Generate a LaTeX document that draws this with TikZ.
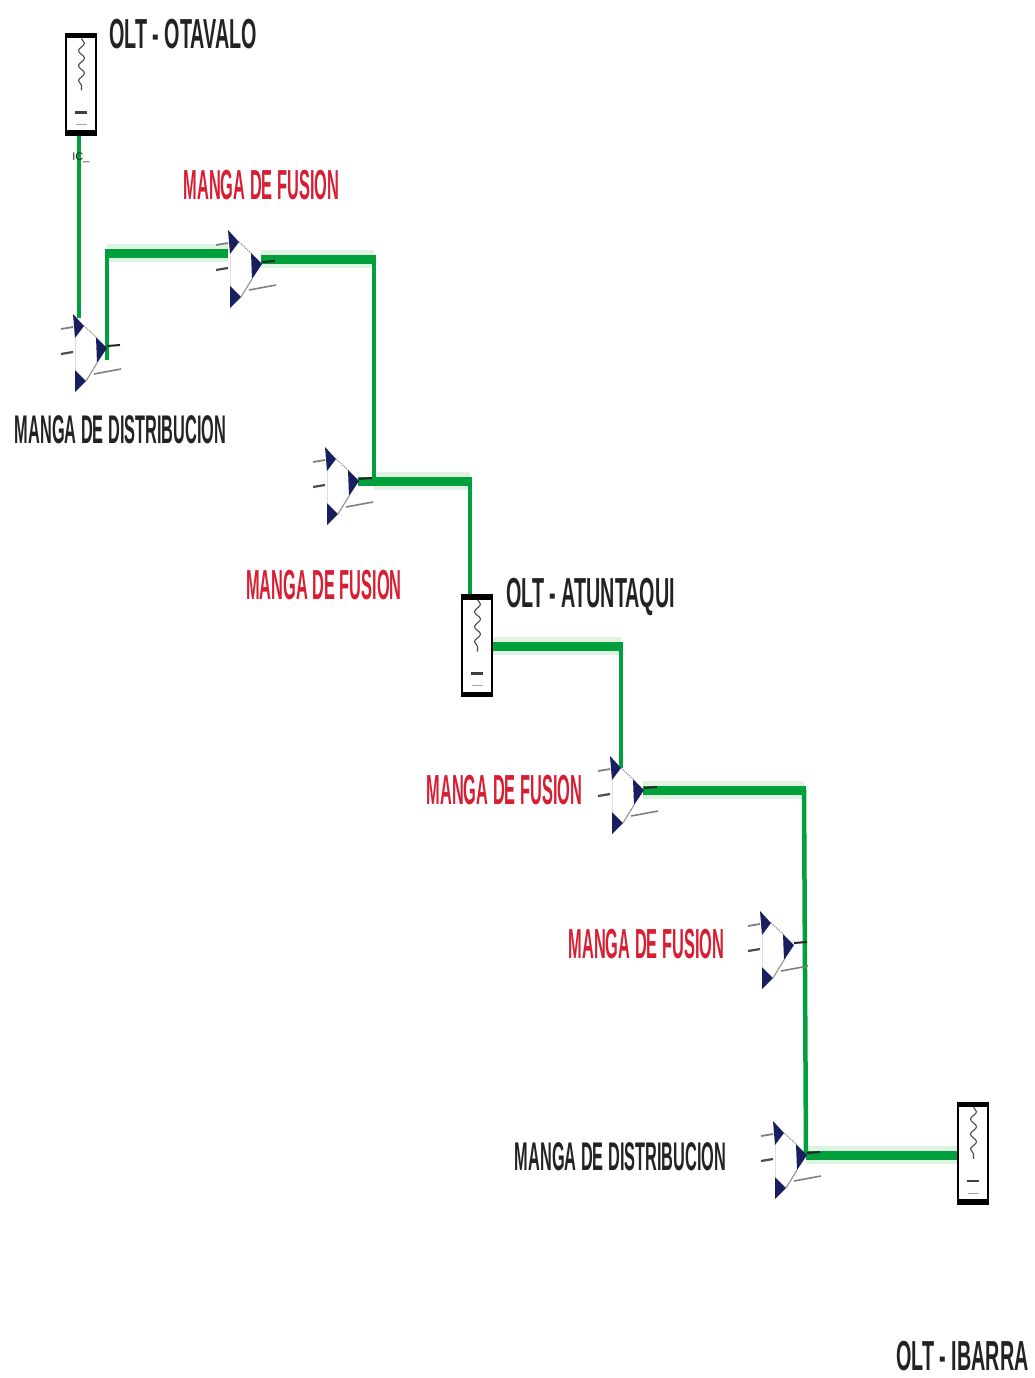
\documentclass[tikz,border=0pt]{standalone}
\usepackage{fontspec}
\setmainfont{Liberation Sans}
\usetikzlibrary{decorations.pathmorphing}
\definecolor{fibergreen}{RGB}{0,160,60}
\definecolor{halogreen}{RGB}{222,243,226}
\definecolor{mangablue}{RGB}{25,30,95}
\definecolor{mangared}{RGB}{215,30,50}
\definecolor{textblack}{RGB}{35,35,35}
\tikzset{
  lbl/.style    = {inner sep=0pt, transform shape, xscale=0.47, text=textblack,
                   font=\fontsize{42}{42}\selectfont\bfseries},
  redlbl/.style = {lbl, xscale=0.83, text=mangared},
  distlbl/.style= {lbl, xscale=0.868, font=\fontsize{40}{40}\selectfont\bfseries},
  oltbox/.style = {draw=black, fill=white, line width=2pt, minimum width=30pt,
                   minimum height=100pt, inner sep=0pt},
  fibh/.style   = {draw=fibergreen, line width=9pt, line cap=butt},
  fibv/.style   = {draw=fibergreen, line width=4.5pt, line cap=butt},
  glow/.style   = {draw=halogreen, line width=18pt},
  pics/manga/.style = {code={
    \fill[mangablue] (-33,34) -- (-22,22) -- (-31,10) -- cycle;
    \fill[mangablue] (-31,-22) -- (-20,-33) -- (-31,-44) -- cycle;
    \fill[mangablue] (-10,11) -- (1,0) -- (-9,-15) -- cycle;
    \draw[gray!80, densely dotted, line width=1.2pt] (-22,22) -- (-10,11);
    \draw[gray!80, line width=1.2pt] (-20,-33) -- (-9,-15);
    \draw[gray!25, line width=0.6pt] (-31,10) -- (-31,-22);
    \draw[gray, line width=1.8pt] (-45,19) -- (-33,21);
    \draw[black!70, line width=2.2pt] (-45,-6) -- (-33,-4);
    \draw[gray, line width=1.6pt] (-12,-26) -- (15,-21);
    \draw[black!85, line width=2pt] (1,2) -- (14,3);
  }},
  pics/oltsym/.style = {code={
    \fill[black] (-16,51.5) rectangle (16,46);
    \fill[black] (-16,-51.5) rectangle (16,-46);
    \draw[black!70, line width=1.1pt, decorate,
          decoration={snake, amplitude=3pt, segment length=15pt}] (1,46) -- (1,-6);
    \draw[black!75, line width=2.2pt] (-6,-28) -- (6,-28);
    \draw[red!40!gray!60, line width=0.8pt] (-5,-40) -- (6,-40);
  }},
}
\begin{document}
\begin{tikzpicture}[x=1pt, y=1pt]
  \useasboundingbox (0,0) rectangle (1035,-1378);
  \fill[white] (0,0) rectangle (1035,-1378);

  % OLT boxes
  \node[oltbox] (olta) at (80.5,-84.5) {};
  \node[oltbox] (oltb) at (476.5,-645.5) {};
  \node[oltbox] (oltc) at (972.5,-1153) {};

  % mangas
  \coordinate (ma) at (106,-348);
  \coordinate (mb) at (261,-264);
  \coordinate (mc) at (358,-481);
  \coordinate (md) at (643,-790);
  \coordinate (me) at (793,-945);
  \coordinate (mf) at (806,-1155);

  % corners
  \coordinate (topa) at (79,-318);
  \coordinate (ca) at (107,-253);
  \coordinate (caend) at (107,-360);
  \coordinate (cb) at (228,-253);
  \coordinate (cc) at (374,-259);
  \coordinate (cd) at (374,-481);
  \coordinate (ce) at (470,-481);
  \coordinate (cf) at (621,-646);
  \coordinate (cg) at (621,-768);
  \coordinate (ch) at (804,-790);

  % pale halo
  \draw[glow] (ca) -- (cb);
  \draw[glow] (261,-259) -- (cc);
  \draw[glow] (cd) -- (ce);
  \draw[glow] (oltb.east |- cf) -- (cf);
  \draw[glow] (md) -- (ch);
  \draw[glow] (mf) -- (oltc.west |- mf);

  % fibre
  \draw[fibv] (olta.south -| topa) -- (topa);
  \draw[fibv] (caend) -- (ca);
  \draw[fibh] (105,-253) -- (cb);
  \draw[fibh] (261,-259) -- (376,-259);
  \draw[fibv] (cc) -- (cd);
  \draw[fibh] (mc) -- (472,-481);
  \draw[fibv] (ce) -- (oltb.north -| ce);
  \draw[fibh] (oltb.east |- cf) -- (623,-646);
  \draw[fibv] (cf) -- (cg);
  \draw[fibh] (md) -- (806,-790);
  \draw[fibv] (ch) -- (mf);
  \draw[fibh] (mf) -- (oltc.west |- mf);

  \foreach \m in {ma,mb,mc,md,me,mf}
    \pic at (\m) {manga};
  \foreach \o in {olta,oltb,oltc}
    \pic at (\o) {oltsym};

  % labels
  \node[lbl] (lolta) at (183,-34) {OLT - OTAVALO};
  \node[lbl] (loltb) at (590.5,-597) {OLT - ATUNTAQUI};
  \node[lbl] (loltc) at (962.5,-1356) {OLT - IBARRA};
  \node[redlbl] (fusa) at (261.5,-185) {MANGA DE FUSION};
  \node[redlbl] (fusb) at (324,-585) {MANGA DE FUSION};
  \node[redlbl] (fusc) at (504.5,-790) {MANGA DE FUSION};
  \node[redlbl] (fusd) at (646.5,-944.5) {MANGA DE FUSION};
  \node[distlbl] (dista) at (120.5,-430) {MANGA DE DISTRIBUCION};
  \node[distlbl] (distb) at (620.5,-1157) {MANGA DE DISTRIBUCION};
  \node[inner sep=0pt, font=\fontsize{11}{11}\selectfont, text=textblack] (ic) at (81,-158) {IC\_};
\end{tikzpicture}
\end{document}
